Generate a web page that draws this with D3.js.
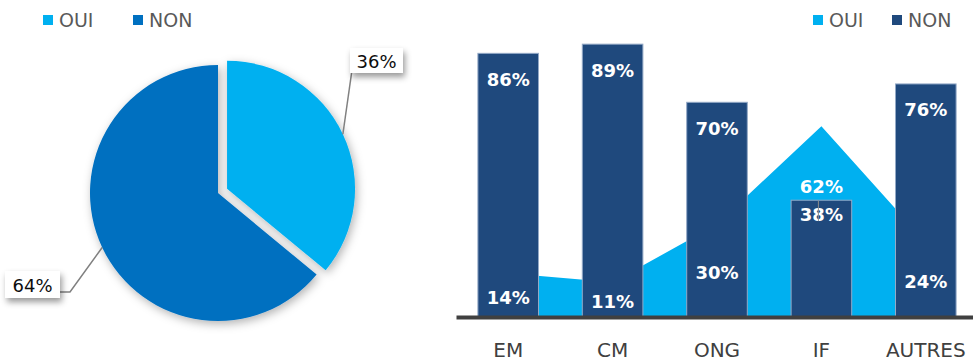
<!DOCTYPE html>
<html>
<head>
<meta charset="utf-8">
<script src="https://cdn.jsdelivr.net/npm/d3@7"></script>
<style>
  html, body { margin: 0; padding: 0; background: #fff; }
  svg { display: block; font-family: "DejaVu Sans", sans-serif; }
</style>
</head>
<body>
<svg id="chart" width="973" height="363"></svg>
<script>
// Overall split
const pieLabels = ["OUI", "NON"];
const pieValues = [36, 64];

// Breakdown by category
const categories = ["EM", "CM", "ONG", "IF", "AUTRES"];
const ouiValues = [14, 11, 30, 62, 24];
const nonValues = [86, 89, 70, 38, 76];

const COLORS = {
  pieOui: "#00B0F0",
  pieNon: "#0070C0",
  areaOui: "#00B0F0",
  barNon: "#1F497D",
  barEdge: "#93A9C6",
  text: "#595959",
  axis: "#404040"
};

const svg = d3.select("#chart");
const defs = svg.append("defs");

const pieShadow = defs.append("filter").attr("id", "pieShadow")
  .attr("x", "-20%").attr("y", "-20%").attr("width", "140%").attr("height", "140%");
pieShadow.append("feDropShadow").attr("dx", 2).attr("dy", 3)
  .attr("stdDeviation", 5).attr("flood-color", "#000").attr("flood-opacity", 0.3);

const boxShadow = defs.append("filter").attr("id", "boxShadow")
  .attr("x", "-40%").attr("y", "-40%").attr("width", "180%").attr("height", "200%");
boxShadow.append("feDropShadow").attr("dx", 2).attr("dy", 4)
  .attr("stdDeviation", 3).attr("flood-color", "#000").attr("flood-opacity", 0.4);

// ---------- Legends ----------
function legend(g, items) {
  items.forEach(it => {
    g.append("rect").attr("x", it.x).attr("y", 15).attr("width", 10).attr("height", 10)
      .attr("fill", it.color);
    g.append("text").attr("x", it.x + 16).attr("y", 27)
      .attr("font-size", 19).attr("fill", COLORS.text).text(it.label);
  });
}
legend(svg.append("g"), [
  { x: 43, color: COLORS.pieOui, label: pieLabels[0] },
  { x: 133, color: COLORS.pieNon, label: pieLabels[1] }
]);
legend(svg.append("g"), [
  { x: 813, color: COLORS.areaOui, label: "OUI" },
  { x: 892, color: COLORS.barNon, label: "NON" }
]);

// ---------- Pie ----------
const cx = 218, cy = 193, R = 128, explode = 10;
const pie = d3.pie().sort(null).value(d => d)(pieValues);
const arc = d3.arc().innerRadius(0).outerRadius(R);
const pieColors = [COLORS.pieOui, COLORS.pieNon];
const pieG = svg.append("g").attr("transform", `translate(${cx},${cy})`)
  .attr("filter", "url(#pieShadow)");

function offsetOf(d, i) {
  if (i !== 0) return [0, 0];
  const m = (d.startAngle + d.endAngle) / 2;
  return [Math.sin(m) * explode, -Math.cos(m) * explode];
}
pieG.selectAll("path").data(pie).join("path")
  .attr("d", arc)
  .attr("fill", (d, i) => pieColors[i])
  .attr("transform", (d, i) => `translate(${offsetOf(d, i)})`);

// Anchor points for the callouts (slice mid-angle on the rim)
const anchors = pie.map((d, i) => {
  const m = (d.startAngle + d.endAngle) / 2;
  const o = offsetOf(d, i);
  return [cx + o[0] + Math.sin(m) * R, cy + o[1] - Math.cos(m) * R];
});

const callouts = [
  { box: [350, 48, 53, 25], path: [anchors[0], [352, 70]] },
  { box: [5, 271, 55, 27], path: [anchors[1], [70, 292], [60, 292]] }
];
const line = d3.line();
callouts.forEach((c, i) => {
  svg.append("path").attr("d", line(c.path)).attr("fill", "none")
    .attr("stroke", "#808080").attr("stroke-width", 1.5);
  const [bx, by, bw, bh] = c.box;
  svg.append("rect").attr("x", bx).attr("y", by).attr("width", bw).attr("height", bh)
    .attr("fill", "#fff").attr("filter", "url(#boxShadow)");
  svg.append("text").attr("x", bx + bw / 2).attr("y", by + bh / 2 + 7)
    .attr("text-anchor", "middle").attr("font-size", 18).attr("fill", "#0d0d0d")
    .text(pieValues[i] + "%");
});

// ---------- Combo: OUI area + NON columns ----------
const x = d3.scaleBand().domain(categories).range([456, 978])
  .paddingInner(0.41).paddingOuter(0.205);
const y = d3.scaleLinear().domain([0, 100]).range([316, 10]);
const cxOf = c => x(c) + x.bandwidth() / 2;

const area = d3.area()
  .x((d, i) => cxOf(categories[i]))
  .y0(y(0))
  .y1(d => y(d));
svg.append("path").datum(ouiValues).attr("d", area).attr("fill", COLORS.areaOui);

svg.append("g").selectAll("rect").data(nonValues).join("rect")
  .attr("x", (d, i) => x(categories[i]) + 0.5)
  .attr("y", d => y(d) + 0.5)
  .attr("width", x.bandwidth() - 1)
  .attr("height", d => y(0) - y(d))
  .attr("fill", COLORS.barNon)
  .attr("stroke", COLORS.barEdge).attr("stroke-width", 1);

// Axis
const axisG = svg.append("g").attr("transform", `translate(0,${y(0) + 1})`)
  .call(d3.axisBottom(x).tickSize(0).tickSizeOuter(0).tickPadding(26));
axisG.select(".domain").attr("stroke", COLORS.axis).attr("stroke-width", 4);
axisG.selectAll("text").attr("font-size", 20).attr("fill", COLORS.axis)
  .attr("font-family", "DejaVu Sans, sans-serif");

// NON value labels
svg.append("g").selectAll("text").data(nonValues).join("text")
  .attr("x", (d, i) => cxOf(categories[i]))
  .attr("y", (d, i) => y(d) + (ouiValues[i] > d ? 21 : 33))
  .attr("text-anchor", "middle").attr("font-size", 18).attr("font-weight", "bold")
  .attr("fill", "#fff").text(d => d + "%");

// OUI value labels: centred on the value, lifted above the column when larger
const ouiG = svg.append("g");
ouiValues.forEach((v, i) => {
  const c = categories[i];
  const lifted = v > nonValues[i];
  if (lifted) {
    ouiG.append("line")
      .attr("x1", cxOf(c) - 3).attr("x2", cxOf(c) - 3)
      .attr("y1", y(nonValues[i]) + 1).attr("y2", y(v / 2))
      .attr("stroke", "#8c8c8c").attr("stroke-width", 1);
  }
  ouiG.append("text")
    .attr("x", cxOf(c))
    .attr("y", lifted ? y(nonValues[i]) - 7 : y(v / 2) + 9)
    .attr("text-anchor", "middle").attr("font-size", 18).attr("font-weight", "bold")
    .attr("fill", "#fff").text(v + "%");
});
</script>
</body>
</html>
